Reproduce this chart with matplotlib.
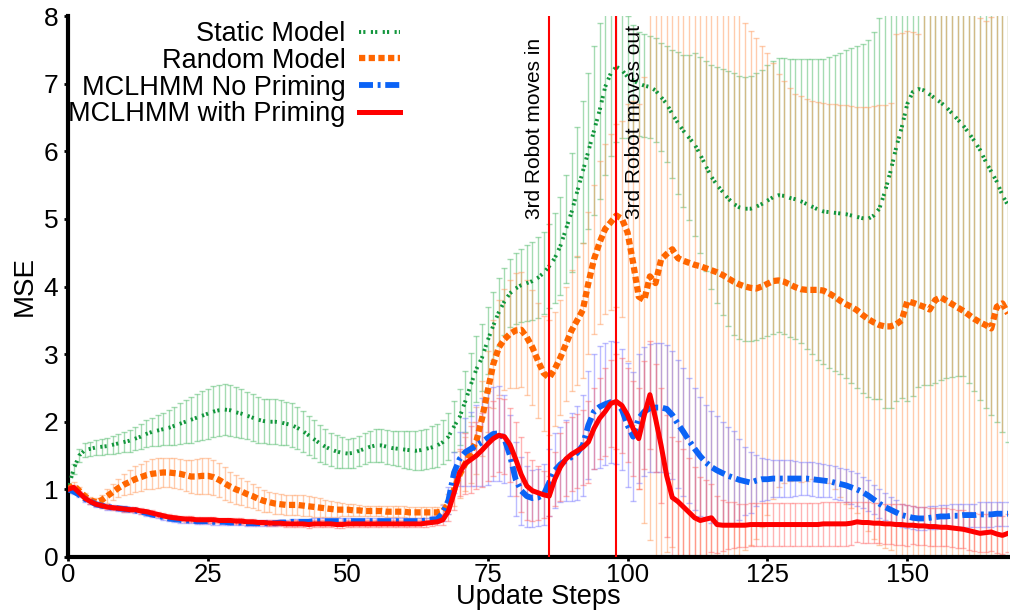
import numpy as np
import matplotlib
matplotlib.use("Agg")
import matplotlib.pyplot as plt

plt.rcParams['font.family'] = ['Liberation Sans', 'DejaVu Sans']

# --- data (one value per update step, 0..168) ---
steps = np.arange(169)

static_mean = [
    1.00, 1.30, 1.50, 1.58, 1.60, 1.62, 1.63, 1.64, 1.66, 1.68,
    1.70, 1.72, 1.75, 1.78, 1.82, 1.85, 1.87, 1.89, 1.91, 1.94,
    1.97, 2.00, 2.03, 2.06, 2.09, 2.12, 2.15, 2.17, 2.18, 2.17,
    2.14, 2.12, 2.09, 2.06, 2.03, 2.01, 2.00, 2.00, 1.99, 1.97,
    1.95, 1.91, 1.86, 1.80, 1.74, 1.68, 1.63, 1.59, 1.56, 1.54,
    1.53, 1.54, 1.57, 1.60, 1.63, 1.65, 1.65, 1.63, 1.61, 1.60,
    1.59, 1.58, 1.57, 1.58, 1.60, 1.62, 1.65, 1.70, 1.78, 1.93,
    2.07, 2.30, 2.55, 2.78, 2.95, 3.20, 3.42, 3.62, 3.78, 3.90,
    3.97, 4.02, 4.05, 4.08, 4.13, 4.20, 4.30, 4.42, 4.60, 4.85,
    5.10, 5.40, 5.70, 6.00, 6.30, 6.60, 6.95, 7.15, 7.25, 7.20,
    7.10, 7.05, 7.00, 6.97, 6.95, 6.90, 6.80, 6.70, 6.55, 6.42,
    6.30, 6.20, 6.10, 5.95, 5.78, 5.62, 5.50, 5.40, 5.30, 5.22,
    5.17, 5.15, 5.15, 5.18, 5.22, 5.27, 5.32, 5.35, 5.34, 5.31,
    5.29, 5.26, 5.22, 5.18, 5.14, 5.11, 5.10, 5.09, 5.08, 5.07,
    5.05, 5.03, 5.01, 5.00, 5.05, 5.15, 5.40, 5.70, 6.05, 6.35,
    6.70, 6.88, 6.92, 6.90, 6.84, 6.78, 6.72, 6.65, 6.56, 6.47,
    6.38, 6.27, 6.15, 6.02, 5.85, 5.70, 5.55, 5.35, 5.20]
static_sd = [
    0.05, 0.08, 0.10, 0.10, 0.10, 0.11, 0.12, 0.12, 0.13, 0.14,
    0.15, 0.16, 0.17, 0.18, 0.20, 0.21, 0.23, 0.24, 0.26, 0.28,
    0.30, 0.32, 0.34, 0.35, 0.36, 0.37, 0.38, 0.38, 0.38, 0.38,
    0.37, 0.36, 0.35, 0.35, 0.34, 0.33, 0.33, 0.33, 0.33, 0.32,
    0.32, 0.31, 0.30, 0.29, 0.28, 0.27, 0.26, 0.25, 0.24, 0.23,
    0.22, 0.22, 0.22, 0.23, 0.23, 0.24, 0.24, 0.25, 0.25, 0.26,
    0.27, 0.28, 0.29, 0.30, 0.30, 0.31, 0.32, 0.33, 0.35, 0.38,
    0.42, 0.45, 0.47, 0.49, 0.50, 0.50, 0.50, 0.50, 0.50, 0.50,
    0.52, 0.54, 0.56, 0.58, 0.60, 0.60, 0.62, 0.66, 0.72, 0.80,
    0.88, 0.96, 1.05, 1.15, 1.25, 1.30, 1.30, 1.22, 1.12, 1.00,
    0.90, 0.82, 0.77, 0.76, 0.76, 0.77, 0.80, 0.86, 0.95, 1.05,
    1.12, 1.22, 1.35, 1.45, 1.55, 1.65, 1.74, 1.82, 1.88, 1.93,
    1.95, 1.95, 1.96, 1.97, 1.98, 2.00, 2.02, 2.03, 2.04, 2.05,
    2.07, 2.10, 2.14, 2.18, 2.22, 2.26, 2.30, 2.34, 2.38, 2.43,
    2.48, 2.53, 2.58, 2.64, 2.72, 2.82, 3.20, 3.50, 3.75, 4.00,
    4.40, 4.50, 4.40, 4.35, 4.30, 4.20, 4.10, 4.00, 3.90, 3.80,
    3.70, 3.70, 3.70, 3.70, 3.65, 3.60, 3.55, 3.50, 3.50]

random_mean = [
    1.00, 1.06, 0.98, 0.90, 0.84, 0.81, 0.84, 0.90, 0.96, 1.02,
    1.07, 1.11, 1.15, 1.18, 1.21, 1.23, 1.24, 1.25, 1.25, 1.24,
    1.23, 1.21, 1.19, 1.19, 1.20, 1.20, 1.18, 1.14, 1.09, 1.04,
    1.00, 0.97, 0.93, 0.90, 0.86, 0.83, 0.81, 0.79, 0.78, 0.77,
    0.77, 0.77, 0.76, 0.75, 0.74, 0.73, 0.72, 0.71, 0.70, 0.70,
    0.70, 0.69, 0.69, 0.68, 0.68, 0.68, 0.68, 0.67, 0.67, 0.67,
    0.67, 0.66, 0.66, 0.66, 0.66, 0.66, 0.66, 0.68, 0.78, 1.00,
    1.22, 1.38, 1.55, 1.72, 2.05, 2.45, 2.85, 3.10, 3.22, 3.30,
    3.35, 3.36, 3.25, 3.10, 2.90, 2.72, 2.65, 2.78, 2.95, 3.15,
    3.35, 3.50, 3.65, 4.05, 4.40, 4.65, 4.85, 4.95, 5.05, 5.00,
    4.80, 4.35, 3.85, 3.80, 4.15, 4.05, 4.40, 4.48, 4.55, 4.42,
    4.38, 4.35, 4.32, 4.30, 4.27, 4.24, 4.21, 4.17, 4.12, 4.07,
    4.03, 4.00, 3.98, 3.97, 4.00, 4.04, 4.08, 4.09, 4.07, 4.03,
    3.99, 3.96, 3.95, 3.95, 3.95, 3.94, 3.90, 3.85, 3.79, 3.74,
    3.70, 3.65, 3.58, 3.52, 3.47, 3.43, 3.41, 3.41, 3.44, 3.50,
    3.78, 3.76, 3.73, 3.70, 3.66, 3.80, 3.84, 3.79, 3.74, 3.69,
    3.64, 3.58, 3.52, 3.47, 3.43, 3.38, 3.70, 3.75, 3.60]
random_sd = [
    0.03, 0.05, 0.05, 0.05, 0.05, 0.06, 0.08, 0.10, 0.12, 0.14,
    0.16, 0.18, 0.19, 0.20, 0.21, 0.22, 0.22, 0.22, 0.22, 0.22,
    0.22, 0.23, 0.24, 0.26, 0.27, 0.27, 0.26, 0.25, 0.24, 0.22,
    0.21, 0.20, 0.19, 0.18, 0.17, 0.16, 0.15, 0.15, 0.15, 0.15,
    0.15, 0.15, 0.15, 0.15, 0.15, 0.14, 0.13, 0.12, 0.11, 0.10,
    0.09, 0.09, 0.08, 0.08, 0.08, 0.08, 0.08, 0.08, 0.08, 0.08,
    0.08, 0.08, 0.08, 0.08, 0.08, 0.08, 0.08, 0.10, 0.15, 0.25,
    0.35, 0.40, 0.45, 0.50, 0.55, 0.60, 0.65, 0.70, 0.75, 0.80,
    0.85, 0.85, 0.85, 0.85, 0.85, 0.85, 0.85, 0.85, 0.85, 0.85,
    0.90, 0.95, 1.00, 1.05, 1.10, 1.20, 1.25, 1.30, 1.35, 1.45,
    1.90, 2.40, 2.85, 3.30, 3.90, 4.40, 4.40, 4.40, 4.40, 4.40,
    4.40, 4.40, 4.40, 4.40, 4.40, 4.40, 4.40, 4.40, 4.40, 4.40,
    4.00, 3.90, 3.80, 3.70, 3.55, 3.42, 3.22, 3.05, 2.97, 2.90,
    2.85, 2.85, 2.83, 2.80, 2.78, 2.78, 2.80, 2.85, 2.90, 2.95,
    2.97, 3.00, 3.07, 3.13, 3.20, 3.25, 3.27, 3.30, 4.30, 4.25,
    4.00, 4.00, 4.00, 4.60, 4.60, 4.60, 4.60, 4.60, 4.60, 4.60,
    4.60, 4.60, 4.60, 4.50, 4.50, 4.60, 4.60, 4.60, 4.60]

noprime_mean = [
    1.00, 0.97, 0.92, 0.86, 0.82, 0.78, 0.76, 0.74, 0.73, 0.72,
    0.71, 0.70, 0.69, 0.67, 0.65, 0.63, 0.61, 0.59, 0.57, 0.56,
    0.55, 0.54, 0.54, 0.53, 0.53, 0.53, 0.52, 0.52, 0.52, 0.51,
    0.51, 0.51, 0.50, 0.50, 0.50, 0.50, 0.50, 0.50, 0.51, 0.51,
    0.52, 0.52, 0.52, 0.52, 0.53, 0.53, 0.53, 0.53, 0.53, 0.53,
    0.53, 0.53, 0.53, 0.53, 0.53, 0.53, 0.53, 0.53, 0.53, 0.53,
    0.53, 0.53, 0.53, 0.53, 0.54, 0.55, 0.56, 0.65, 0.84, 1.25,
    1.45, 1.55, 1.60, 1.65, 1.70, 1.76, 1.82, 1.83, 1.75, 1.50,
    1.15, 0.98, 0.90, 0.87, 0.88, 0.92, 1.10, 1.28, 1.37, 1.43,
    1.48, 1.54, 1.65, 1.95, 2.15, 2.22, 2.26, 2.29, 2.28, 2.18,
    1.95, 1.78, 2.05, 2.15, 2.20, 2.21, 2.21, 2.19, 2.10, 1.97,
    1.85, 1.72, 1.60, 1.49, 1.40, 1.33, 1.28, 1.24, 1.20, 1.17,
    1.14, 1.12, 1.10, 1.13, 1.15, 1.15, 1.16, 1.16, 1.16, 1.16,
    1.16, 1.16, 1.16, 1.15, 1.14, 1.13, 1.12, 1.10, 1.08, 1.06,
    1.03, 1.00, 0.96, 0.91, 0.85, 0.79, 0.74, 0.70, 0.66, 0.62,
    0.60, 0.58, 0.57, 0.57, 0.58, 0.59, 0.60, 0.60, 0.61, 0.61,
    0.62, 0.62, 0.62, 0.63, 0.63, 0.63, 0.64, 0.64, 0.64]
noprime_sd = [0.04] * 60 + [
    0.04, 0.04, 0.04, 0.04, 0.04, 0.05, 0.06, 0.12, 0.20, 0.30,
    0.40, 0.50, 0.55, 0.60, 0.65, 0.70, 0.70, 0.70, 0.65, 0.60,
    0.55, 0.50, 0.45, 0.42, 0.42, 0.45, 0.50, 0.55, 0.55, 0.60,
    0.65, 0.70, 0.75, 0.80, 0.85, 0.90, 0.90, 0.90, 0.90, 0.90,
    0.92, 0.95, 0.95, 0.95, 0.95, 0.95, 0.95, 0.95, 0.95, 0.95,
    0.95, 0.92, 0.90, 0.88, 0.85, 0.83, 0.80, 0.75, 0.72, 0.70,
    0.60, 0.50, 0.45, 0.38, 0.32, 0.30, 0.28, 0.27, 0.27, 0.27,
    0.26, 0.25, 0.25, 0.25, 0.25, 0.24, 0.24, 0.24, 0.24, 0.24,
    0.24, 0.24, 0.23, 0.23, 0.22, 0.21, 0.20, 0.19, 0.18, 0.17,
    0.17, 0.17, 0.17, 0.17, 0.17, 0.17, 0.17, 0.17, 0.17, 0.17,
    0.17, 0.17, 0.17, 0.18, 0.18, 0.18, 0.18, 0.18, 0.18]

prime_mean = [
    1.00, 1.03, 0.95, 0.87, 0.82, 0.78, 0.76, 0.74, 0.73, 0.72,
    0.71, 0.70, 0.70, 0.68, 0.67, 0.65, 0.63, 0.61, 0.59, 0.58,
    0.57, 0.56, 0.56, 0.55, 0.55, 0.55, 0.55, 0.54, 0.54, 0.54,
    0.53, 0.53, 0.52, 0.52, 0.51, 0.51, 0.50, 0.50, 0.50, 0.49,
    0.49, 0.49, 0.49, 0.48, 0.49, 0.49, 0.49, 0.49, 0.48, 0.48,
    0.49, 0.49, 0.49, 0.49, 0.49, 0.49, 0.49, 0.49, 0.49, 0.49,
    0.49, 0.49, 0.49, 0.49, 0.50, 0.51, 0.52, 0.55, 0.68, 0.95,
    1.25, 1.38, 1.44, 1.50, 1.58, 1.67, 1.75, 1.80, 1.78, 1.66,
    1.45, 1.22, 1.05, 0.98, 0.95, 0.92, 0.90, 1.15, 1.33, 1.45,
    1.52, 1.57, 1.62, 1.70, 1.90, 2.05, 2.15, 2.27, 2.30, 2.24,
    2.10, 1.90, 1.75, 2.10, 2.40, 2.05, 1.65, 1.20, 0.88, 0.82,
    0.74, 0.66, 0.58, 0.54, 0.56, 0.58, 0.48, 0.47, 0.47, 0.47,
    0.47, 0.47, 0.48, 0.48, 0.48, 0.48, 0.48, 0.48, 0.48, 0.48,
    0.48, 0.48, 0.48, 0.48, 0.48, 0.49, 0.49, 0.49, 0.49, 0.49,
    0.50, 0.52, 0.51, 0.51, 0.50, 0.50, 0.49, 0.49, 0.48, 0.48,
    0.47, 0.47, 0.46, 0.46, 0.45, 0.45, 0.44, 0.44, 0.43, 0.42,
    0.41, 0.39, 0.37, 0.35, 0.36, 0.37, 0.34, 0.32, 0.35]
prime_sd = [0.03] * 10 + [0.04] * 30 + [0.05] * 20 + [
    0.05, 0.05, 0.05, 0.05, 0.05, 0.05, 0.05, 0.08, 0.15, 0.25,
    0.35, 0.45, 0.50, 0.50, 0.55, 0.55, 0.55, 0.55, 0.55, 0.55,
    0.55, 0.55, 0.50, 0.45, 0.40, 0.35, 0.30, 0.40, 0.50, 0.55,
    0.55, 0.55, 0.55, 0.60, 0.60, 0.60, 0.65, 0.65, 0.70, 0.70,
    0.70, 0.70, 0.75, 0.80, 0.80, 0.80, 0.85, 0.90, 0.90, 0.90,
    0.85, 0.80, 0.75, 0.65, 0.58, 0.50, 0.42, 0.38, 0.35, 0.34,
    0.32, 0.32, 0.32, 0.32, 0.32, 0.32, 0.32, 0.32, 0.32, 0.32,
    0.32, 0.32, 0.32, 0.32, 0.32, 0.32, 0.32, 0.32, 0.32, 0.32,
    0.32, 0.30, 0.30, 0.30, 0.30, 0.30, 0.30, 0.30, 0.30, 0.30,
    0.30, 0.28, 0.28, 0.28, 0.28, 0.28, 0.28, 0.28, 0.28, 0.28,
    0.28, 0.28, 0.28, 0.28, 0.28, 0.28, 0.28, 0.28, 0.28]

robot_in, robot_out = 86, 98

# (label, mean, sd, line colour, errorbar colour, linestyle, linewidth)
series = [
    ("Static Model", static_mean, static_sd, "#12963c", "#4cb866", (0, (0.55, 0.55, 0.55, 1.4)), 2.8),
    ("Random Model", random_mean, random_sd, "#ff6600", "#ff9a5c", (0, (1.0, 0.55)), 4.5),
    ("MCLHMM No Priming", noprime_mean, noprime_sd, "#0b63f6", "#7a7aff", (0, (2.4, 0.8, 0.5, 0.8)), 4.2),
    ("MCLHMM with Priming", prime_mean, prime_sd, "#ff0000", "#ff6a6a", "-", 3.6),
]

fig = plt.figure(figsize=(10.1, 6.11), dpi=100)
ax = fig.add_axes([68 / 1010, 54 / 611, 940 / 1010, 541 / 611])

for label, mean, sd, col, ecol, ls, lw in series:
    ax.errorbar(steps, mean, yerr=sd, fmt="none", ecolor=ecol, elinewidth=1.0,
                capsize=2.5, capthick=1.0, alpha=0.5, zorder=1)

handles = []
for i, (label, mean, sd, col, ecol, ls, lw) in enumerate(series):
    h, = ax.plot(steps, mean, color=col, linestyle=ls, linewidth=lw, label=label,
                 zorder=3 + i, dash_capstyle="butt")
    handles.append(h)

ax.axvline(robot_in, color="#ff0000", linewidth=1.5, zorder=8)
ax.axvline(robot_out, color="#ff0000", linewidth=1.5, zorder=8)
ax.text(robot_in - 0.9, 5.0, "3rd Robot moves in", rotation=90, ha="right", va="bottom",
        fontsize=15, zorder=9)
ax.text(robot_out + 1.5, 5.0, "3rd Robot moves out", rotation=90, ha="left", va="bottom",
        fontsize=15, zorder=9)

ax.set_xlim(0, 168)
ax.set_ylim(0, 8)
ax.set_xticks([0, 25, 50, 75, 100, 125, 150])
ax.set_yticks(range(9))
ax.tick_params(labelsize=19, length=3, width=2, direction="out", pad=4)
ax.tick_params(axis="x", pad=1, labelsize=18.5)
for side in ("top", "right"):
    ax.spines[side].set_visible(False)
for side in ("left", "bottom"):
    ax.spines[side].set_linewidth(3)
ax.set_xlabel("Update Steps", fontsize=19.5, labelpad=-1.5)
ax.set_ylabel("MSE", fontsize=20, labelpad=4)

fig.legend(handles=handles, loc="upper right", bbox_to_anchor=(400 / 1010, 1 - 21 / 611),
           markerfirst=False, frameon=False, fontsize=19.5, handlelength=1.5,
           handletextpad=0.5, labelspacing=0.03, borderpad=0, borderaxespad=0)

fig.savefig("out.png", dpi=100)
